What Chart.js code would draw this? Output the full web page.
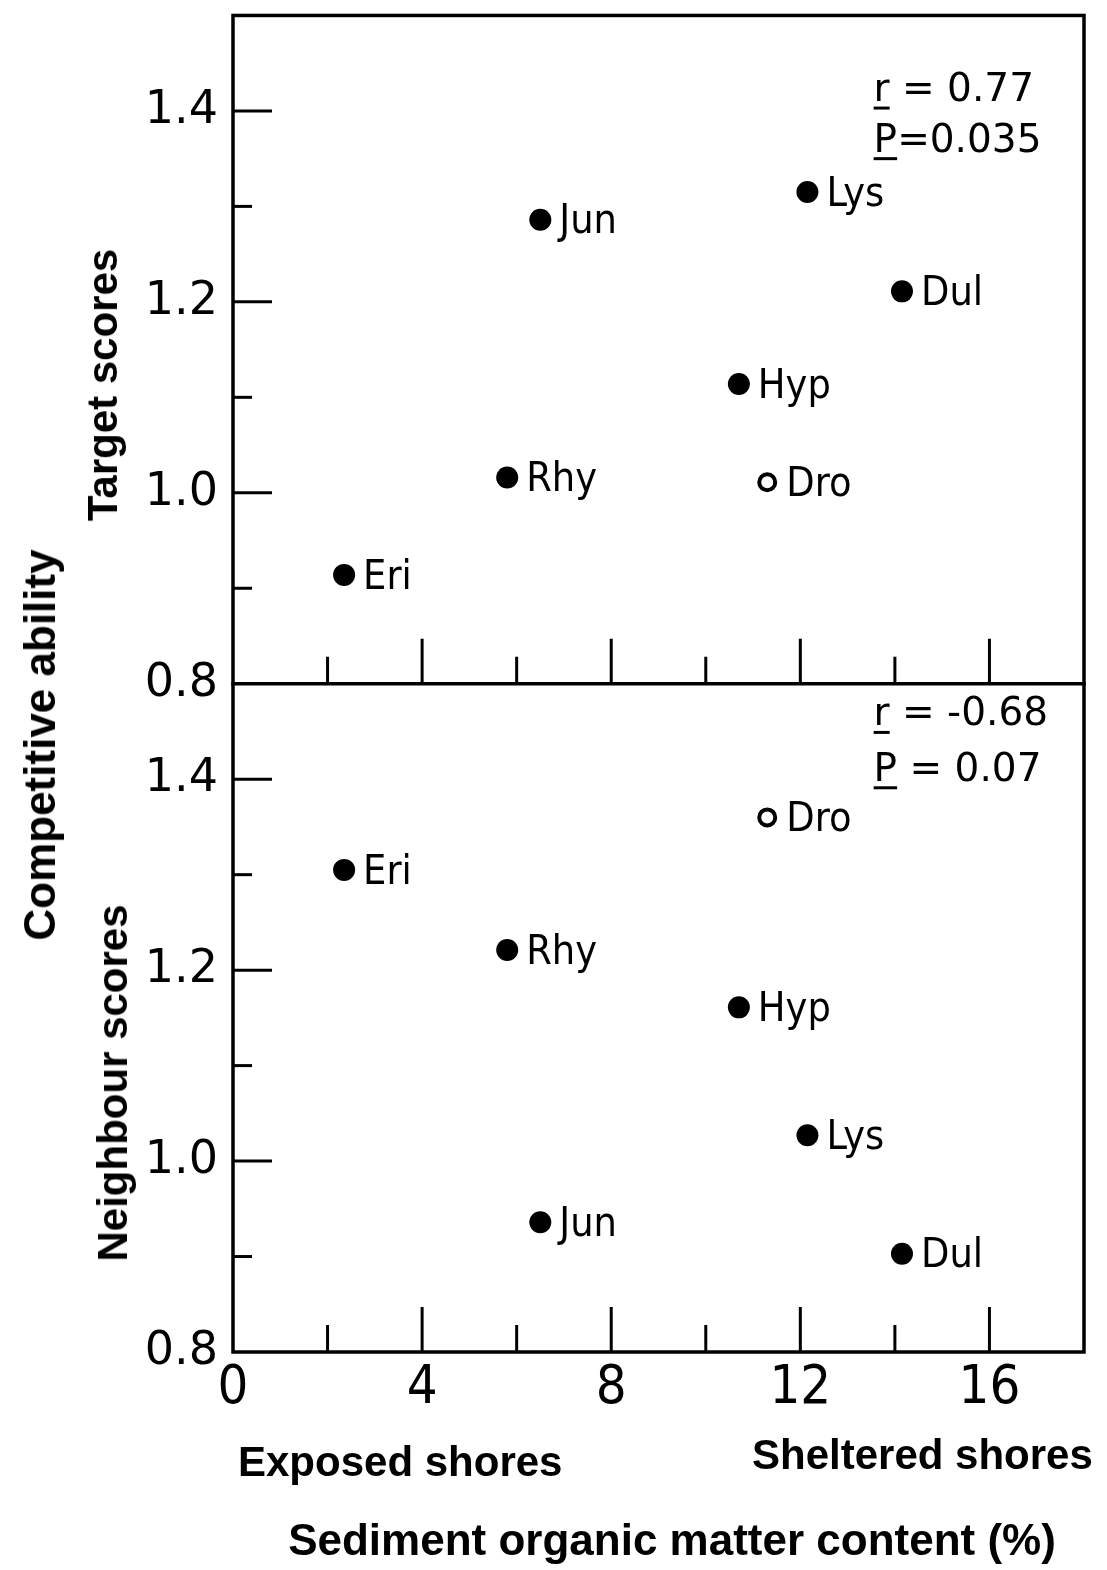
<!DOCTYPE html>
<html><head><meta charset="utf-8">
<script src="https://cdn.jsdelivr.net/npm/chart.js@4.4.1/dist/chart.umd.min.js"></script>
<style>
html,body{margin:0;padding:0;background:#fff;}
#wrap{position:relative;width:1107px;height:1570px;overflow:hidden;background:#fff;}
canvas{position:absolute;left:0;top:0;}
.t{position:absolute;font-family:'Liberation Sans',Arial,sans-serif;font-weight:bold;color:#000;white-space:nowrap;line-height:1;}
.rot{transform:translate(-50%,-50%) rotate(-90deg);}
.hc{transform:translate(-50%,-50%);}
.lc{transform:translate(0,-50%);}
</style></head>
<body><div id="wrap"><canvas id="c" width="1107" height="1570"></canvas>
<div class="t rot" style="left:40px;top:745px;font-size:44px">Competitive ability</div>
<div class="t rot" style="left:103px;top:385px;font-size:42px">Target scores</div>
<div class="t rot" style="left:113px;top:1083px;font-size:42px">Neighbour scores</div>
<div class="t lc" style="left:238px;top:1462px;font-size:42px">Exposed shores</div>
<div class="t lc" style="left:752px;top:1455px;font-size:42px">Sheltered shores</div>
<div class="t hc" style="left:672px;top:1540px;font-size:44px">Sediment organic matter content (%)</div>
</div>
<script>
// ---- data ----
const species = ['Eri', 'Rhy', 'Jun', 'Hyp', 'Dro', 'Lys', 'Dul'];
const sediment = [2.35, 5.8, 6.5, 10.7, 11.3, 12.15, 14.15];
const targetScores = [0.914, 1.016, 1.286, 1.114, 1.011, 1.315, 1.211];
const neighbourScores = [1.305, 1.221, 0.936, 1.161, 1.360, 1.027, 0.903];
const openMarker = ['Dro'];
const xTickLabels = [0, 4, 8, 12, 16];
const xMinorTicks = [2, 6, 10, 14];
const yTickLabels = [0.8, 1.0, 1.2, 1.4];
const yMinorTicks = [0.9, 1.1, 1.3];
const topStats = ['r = 0.77', 'P=0.035'];
const bottomStats = ['r = -0.68', 'P = 0.07'];
const xRange = [0, 18];
const yRange = [0.8, 1.5];

const NARROW = "'Liberation Sans Narrow','DejaVu Sans Condensed','Liberation Sans',Arial,sans-serif";
const WIDE = "'DejaVu Sans','Liberation Sans',sans-serif";

function toPoints(ys) { return species.map((s, i) => ({x: sediment[i], y: ys[i]})); }

const isOpen = ctx => openMarker.includes(species[ctx.dataIndex]);
function ds(label, ys, axis) {
  return {
    label, data: toPoints(ys), yAxisID: axis, xAxisID: 'x',
    pointStyle: 'circle',
    pointRadius: ctx => isOpen(ctx) ? 8 : 11,
    pointHoverRadius: ctx => isOpen(ctx) ? 8 : 11,
    backgroundColor: ctx => isOpen(ctx) ? '#fff' : '#000',
    borderColor: '#000',
    borderWidth: ctx => isOpen(ctx) ? 4 : 0,
    showLine: false
  };
}

const framePlugin = {
  id: 'frame',
  afterDatasetsDraw(chart) {
    const {ctx, chartArea: a, scales} = chart;
    const x = scales.x, yT = scales.yTop, yB = scales.yBot;
    const mid = yT.bottom;
    ctx.save();
    ctx.strokeStyle = '#000';
    ctx.lineCap = 'square';
    ctx.lineWidth = 3.5;
    ctx.strokeRect(a.left, a.top, a.right - a.left, a.bottom - a.top);
    ctx.beginPath(); ctx.moveTo(a.left, mid); ctx.lineTo(a.right, mid); ctx.stroke();
    ctx.lineWidth = 3;
    ctx.lineCap = 'butt';
    const xt = [...xTickLabels.filter(v => v > xRange[0]).map(v => [v, 45]), ...xMinorTicks.map(v => [v, 27])];
    for (const [v, len] of xt) {
      const px = x.getPixelForValue(v);
      for (const base of [mid, a.bottom]) {
        ctx.beginPath(); ctx.moveTo(px, base); ctx.lineTo(px, base - len); ctx.stroke();
      }
    }
    const yt = [...yTickLabels.filter(v => v > yRange[0]).map(v => [v, 39]), ...yMinorTicks.map(v => [v, 19])];
    for (const sc of [yT, yB]) {
      for (const [v, len] of yt) {
        const py = sc.getPixelForValue(v);
        ctx.beginPath(); ctx.moveTo(a.left, py); ctx.lineTo(a.left + len, py); ctx.stroke();
      }
    }
    // point labels
    ctx.fillStyle = '#000';
    ctx.font = "41px " + NARROW;
    ctx.textBaseline = 'middle';
    ctx.textAlign = 'left';
    chart.data.datasets.forEach((d, di) => {
      chart.getDatasetMeta(di).data.forEach((el, i) => {
        ctx.fillText(species[i], el.x + 19, el.y + 3);
      });
    });
    // statistics
    ctx.font = "39px " + WIDE;
    ctx.textBaseline = 'alphabetic';
    const statX = x.getPixelForValue(13.55);
    const drawStats = (lines, sc, vals) => {
      lines.forEach((s, i) => {
        const py = sc.getPixelForValue(vals[i]) + 14;
        ctx.fillText(s, statX, py);
        const w = ctx.measureText(s[0]).width;
        ctx.lineWidth = 3;
        ctx.beginPath(); ctx.moveTo(statX, py + 7); ctx.lineTo(statX + w, py + 7); ctx.stroke();
      });
    };
    drawStats(topStats, yT, [1.425, 1.372]);
    drawStats(bottomStats, yB, [1.471, 1.413]);
    ctx.restore();
  }
};

function yScale(weight) {
  return {
    type: 'linear', position: 'left', stack: 'panels', stackWeight: 1, weight,
    min: yRange[0], max: yRange[1],
    grid: {display: false, drawTicks: false}, border: {display: false},
    afterBuildTicks: s => { s.ticks = yTickLabels.map(v => ({value: v})); },
    ticks: {
      color: '#000', padding: 15,
      font: {family: WIDE, size: 46, lineHeight: 0.02},
      callback: v => Number(v).toFixed(1)
    },
    afterFit: s => { s.width = 233; }
  };
}

new Chart(document.getElementById('c'), {
  type: 'scatter',
  data: {
    datasets: [
      ds('Target scores', targetScores, 'yTop'),
      ds('Neighbour scores', neighbourScores, 'yBot')
    ]
  },
  options: {
    responsive: false, animation: false, devicePixelRatio: 1,
    layout: {padding: {left: 0, top: 15, right: 23, bottom: 0}},
    plugins: {legend: {display: false}, tooltip: {enabled: false}},
    scales: {
      x: {
        type: 'linear', position: 'bottom', min: xRange[0], max: xRange[1],
        grid: {display: false, drawTicks: false}, border: {display: false},
        afterBuildTicks: s => { s.ticks = xTickLabels.map(v => ({value: v})); },
        ticks: {color: '#000', padding: 10, maxRotation: 0, font: {family: NARROW, size: 54, lineHeight: 1}, callback: v => String(v)},
        afterFit: s => { s.height = 218; }
      },
      yBot: yScale(0),
      yTop: yScale(1)
    }
  },
  plugins: [framePlugin]
});
</script>
</body></html>
